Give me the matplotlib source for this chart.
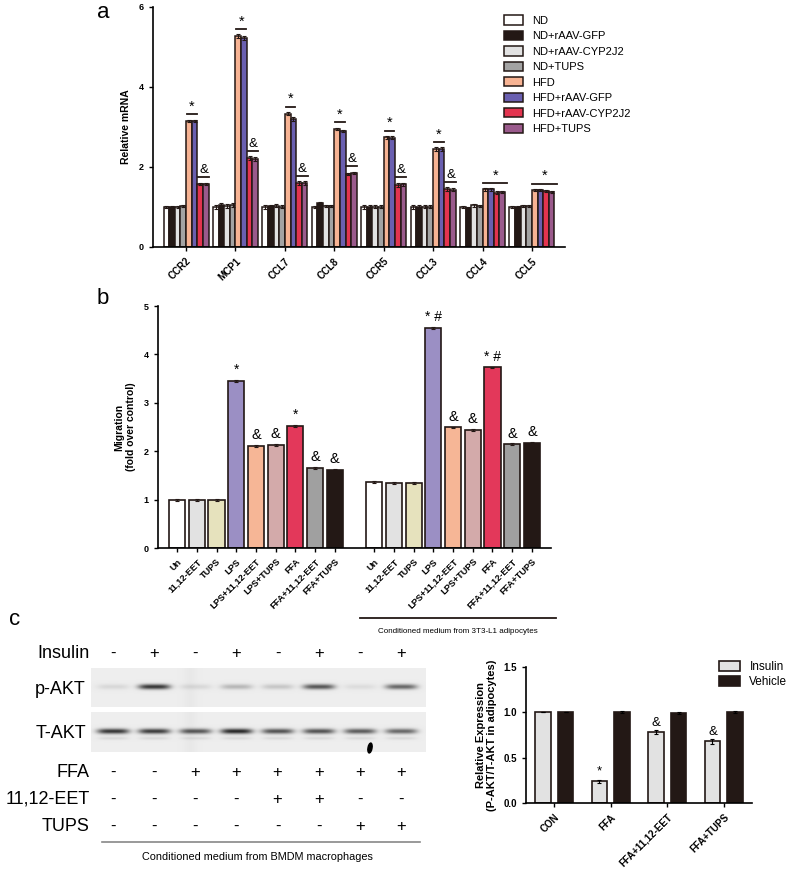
import matplotlib
matplotlib.use("Agg")
import matplotlib.pyplot as plt
from matplotlib.patches import Ellipse
import numpy as np

plt.rcParams['font.family'] = ['Liberation Sans', 'DejaVu Sans']

# ---------------- data ----------------
# panel a
genes = ["CCR2", "MCP1", "CCL7", "CCL8", "CCR5", "CCL3", "CCL4", "CCL5"]
groups_a = ["ND", "ND+rAAV-GFP", "ND+rAAV-CYP2J2", "ND+TUPS",
            "HFD", "HFD+rAAV-GFP", "HFD+rAAV-CYP2J2", "HFD+TUPS"]
nd = [1.00, 1.00, 1.00, 1.00, 1.00, 1.00, 1.00, 1.00]
nd_gfp = [1.00, 1.04, 1.02, 1.10, 1.01, 1.01, 0.98, 1.00]
nd_cyp = [1.00, 1.02, 1.03, 1.03, 1.01, 1.01, 1.04, 1.02]
nd_tups = [1.02, 1.05, 1.01, 1.02, 1.01, 1.01, 1.02, 1.02]
hfd = [3.15, 5.27, 3.33, 2.95, 2.74, 2.45, 1.44, 1.43]
hfd_gfp = [3.15, 5.23, 3.20, 2.90, 2.73, 2.45, 1.44, 1.43]
hfd_cyp = [1.58, 2.22, 1.60, 1.82, 1.55, 1.45, 1.36, 1.40]
hfd_tups = [1.58, 2.20, 1.60, 1.85, 1.57, 1.43, 1.37, 1.38]
err_a = [0.03, 0.05, 0.04, 0.03, 0.04, 0.04, 0.03, 0.03]
pair_marks = [("*", "&"), ("*", "&"), ("*", "&"), ("*", "&"),
              ("*", "&"), ("*", "&"), ("*", None), ("*", None)]
colors_a = ["#ffffff", "#231815", "#e2e2e2", "#a3a3a3",
            "#f7b393", "#6a5fb0", "#e3344f", "#9a5a8c"]

# panel b
treat_b = ["Un", "11,12-EET", "TUPS", "LPS", "LPS+11,12-EET", "LPS+TUPS",
           "FFA", "FFA+11,12-EET", "FFA+TUPS"]
direct_b = [1.00, 1.00, 1.00, 3.45, 2.10, 2.13, 2.53, 1.65, 1.62]
cond_b = [1.37, 1.34, 1.34, 4.55, 2.49, 2.44, 3.73, 2.14, 2.17]
marks_direct = ["", "", "", "*", "&", "&", "*", "&", "&"]
marks_cond = ["", "", "", "* #", "&", "&", "* #", "&", "&"]
colors_b = ["#ffffff", "#e2e2e2", "#e6e2bd", "#9b8fc4", "#f6b696",
            "#d3aaaa", "#e3385a", "#a0a0a0", "#231815"]

# panel c (right)
cats_c = ["CON", "FFA", "FFA+11,12-EET", "FFA+TUPS"]
insulin_c = [1.00, 0.24, 0.78, 0.68]
vehicle_c = [1.00, 1.00, 0.995, 1.00]
ins_err = [0.0, 0.015, 0.02, 0.025]
veh_err = [0.0, 0.01, 0.01, 0.01]
marks_c = ["", "*", "&", "&"]

# panel c (blot)
insulin_row = ["-", "+", "-", "+", "-", "+", "-", "+"]
ffa_row = ["-", "-", "+", "+", "+", "+", "+", "+"]
eet_row = ["-", "-", "-", "-", "+", "+", "-", "-"]
tups_row = ["-", "-", "-", "-", "-", "-", "+", "+"]
pakt_band = [0.10, 0.85, 0.10, 0.25, 0.18, 0.70, 0.08, 0.62]
takt_band = [0.85, 0.82, 0.70, 0.92, 0.72, 0.72, 0.68, 0.62]

W, H = 787, 872
fig = plt.figure(figsize=(W / 100, H / 100), dpi=100)


def fbox(x0, y0, x1, y1):
    # pixel box -> figure fraction
    return [x0 / W, 1 - y1 / H, (x1 - x0) / W, (y1 - y0) / H]


def style_axis(ax, ysize=6.5):
    for s in ["top", "right"]:
        ax.spines[s].set_visible(False)
    for s in ["left", "bottom"]:
        ax.spines[s].set_linewidth(1.2)
    ax.tick_params(width=1.0, length=3)
    ax.tick_params(axis="y", labelsize=ysize)
    for t in ax.get_yticklabels():
        t.set_fontweight("bold")


# overlay in pixel coords for blot and free text
ov = fig.add_axes([0, 0, 1, 1], zorder=-1)
ov.set_xlim(0, W)
ov.set_ylim(H, 0)
ov.axis("off")

# ---------------- panel a ----------------
ax = fig.add_axes(fbox(153, 7, 565, 247))
series_a = [nd, nd_gfp, nd_cyp, nd_tups, hfd, hfd_gfp, hfd_cyp, hfd_tups]
x = np.arange(len(genes))
bw = 0.114
for i, (vals, c, lab) in enumerate(zip(series_a, colors_a, groups_a)):
    ax.bar(x + (i - 3.5) * bw, vals, bw, color=c, edgecolor="#231815",
           linewidth=1.1, label=lab, yerr=err_a, capsize=1.2,
           error_kw=dict(elinewidth=0.8, capthick=0.8, ecolor="#231815"))
for g in range(len(genes)):
    star, amp = pair_marks[g]
    if amp is None:
        top = max(hfd[g], hfd_gfp[g], hfd_cyp[g], hfd_tups[g]) + 0.15
        x0, x1 = x[g] + 0.5 * bw - 0.05, x[g] + 4.0 * bw + 0.05
        ax.plot([x0, x1], [top, top], color="#231815", lw=1.3, clip_on=False)
        ax.text((x0 + x1) / 2, top + 0.02, star, ha="center", va="bottom", fontsize=10.5)
    else:
        top = max(hfd[g], hfd_gfp[g]) + 0.17
        x0, x1 = x[g] + 0.5 * bw - 0.04, x[g] + 1.5 * bw + 0.04
        ax.plot([x0, x1], [top, top], color="#231815", lw=1.3)
        ax.text((x0 + x1) / 2, top + 0.02, star, ha="center", va="bottom", fontsize=10.5)
        top2 = max(hfd_cyp[g], hfd_tups[g]) + 0.18
        x0, x1 = x[g] + 2.5 * bw - 0.04, x[g] + 3.5 * bw + 0.06
        ax.plot([x0, x1], [top2, top2], color="#231815", lw=1.3)
        ax.text((x0 + x1) / 2, top2 + 0.02, amp, ha="center", va="bottom", fontsize=9.5)
ax.set_xlim(-0.67, 7.67)
ax.set_ylim(0, 6)
ax.set_yticks([0, 2, 4, 6])
ax.set_xticks(x)
ax.set_xticklabels(genes, rotation=45, ha="right", rotation_mode="anchor",
                   fontsize=7, fontweight="bold")
ax.set_ylabel("Relative mRNA", fontsize=7.5, fontweight="bold", labelpad=6)
style_axis(ax)
ax.legend(loc="upper left", bbox_to_anchor=(500 / W, 1 - 11 / H),
          bbox_transform=fig.transFigure, frameon=False, fontsize=8,
          handlelength=1.7, handleheight=0.9, labelspacing=0.45,
          handletextpad=0.8, borderaxespad=0)

# ---------------- panel b ----------------
ax = fig.add_axes(fbox(158, 306, 551, 548))
xb1 = np.arange(len(treat_b))
xb2 = xb1 + len(treat_b) + 1
for xs, vals, marks in [(xb1, direct_b, marks_direct), (xb2, cond_b, marks_cond)]:
    ax.bar(xs, vals, 0.82, color=colors_b, edgecolor="#231815", linewidth=1.2,
           yerr=0.02, capsize=1.5,
           error_kw=dict(elinewidth=0.8, capthick=0.8, ecolor="#231815"))
    for xi, v, m in zip(xs, vals, marks):
        if m:
            ax.text(xi, v + 0.08, m, ha="center", va="bottom",
                    fontsize=10.5 if m == "&" else 10)
ax.set_xlim(-0.97, 18.97)
ax.set_ylim(0, 5)
ax.set_yticks(range(6))
ax.set_xticks(np.concatenate([xb1, xb2]))
ax.set_xticklabels(treat_b * 2, rotation=45, ha="right", rotation_mode="anchor",
                   fontsize=6.6, fontweight="bold")
ax.set_ylabel("Migration\n(fold over control)", fontsize=7.5, fontweight="bold",
              labelpad=6, linespacing=1.1)
style_axis(ax)
ov.plot([360, 556], [618, 618], color="#231815", lw=1.3)
ov.text(458, 631, "Conditioned medium from 3T3-L1 adipocytes", ha="center",
        va="center", fontsize=5.8)

# ---------------- panel c right ----------------
ax = fig.add_axes(fbox(526, 667, 752, 803))
xc = np.arange(len(cats_c))
cw = 0.28
ax.bar(xc - 0.2, insulin_c, cw, color="#e2e2e2", edgecolor="#231815",
       linewidth=1.2, label="Insulin", yerr=ins_err, capsize=1.5,
       error_kw=dict(elinewidth=0.8, capthick=0.8))
ax.bar(xc + 0.2, vehicle_c, cw, color="#231815", edgecolor="#231815",
       linewidth=1.2, label="Vehicle", yerr=veh_err, capsize=1.5,
       error_kw=dict(elinewidth=0.8, capthick=0.8))
for xi, v, m in zip(xc, insulin_c, marks_c):
    if m:
        ax.text(xi - 0.2, v + 0.04, m, ha="center", va="bottom", fontsize=9.5)
ax.set_xlim(-0.5, 3.5)
ax.set_ylim(0, 1.5)
ax.set_yticks([0, 0.5, 1.0, 1.5])
ax.set_yticklabels(["0.0", "0.5", "1.0", "1.5"])
ax.set_xticks(xc)
ax.set_xticklabels(cats_c, rotation=45, ha="right", rotation_mode="anchor",
                   fontsize=7, fontweight="bold")
ax.set_ylabel("Relative Expression\n(P-AKT/T-AKT in adipocytes)", fontsize=8,
              fontweight="bold", labelpad=5, linespacing=1.1)
style_axis(ax, ysize=7)
ax.legend(loc="upper left", bbox_to_anchor=(714 / W, 1 - 656 / H),
          bbox_transform=fig.transFigure, frameon=False, fontsize=8.5,
          handlelength=1.8, handleheight=0.9, labelspacing=0.25,
          handletextpad=0.8, borderaxespad=0)

# ---------------- panel c blot ----------------
lanes = np.linspace(113, 401, 8)
bx0, bx1 = 91, 426


def strip(y0, y1, amps, second=None):
    yy, xx = np.mgrid[y0:y1:0.5, bx0:bx1:0.5]
    img = np.full(xx.shape, 0.93)
    img -= 0.02 * np.exp(-((xx - 190) / 6) ** 2)
    yc = (y0 + y1) / 2 - 1
    for lx, a in zip(lanes, amps):
        prof = np.exp(-np.abs((xx - lx) / 16) ** 4) * np.exp(-((yy - yc) / 2.6) ** 2)
        img -= a * 0.85 * prof
        if second is not None:
            img -= second * np.exp(-np.abs((xx - lx) / 15) ** 4) * \
                np.exp(-((yy - yc - 7) / 1.5) ** 2)
    ov.imshow(np.clip(img, 0, 1), cmap="gray", vmin=0, vmax=1,
              extent=(bx0, bx1, y1, y0), aspect="auto", interpolation="bilinear")


strip(668, 707, pakt_band)
strip(712, 752, takt_band, second=0.08)
ov.add_patch(Ellipse((370, 748), 4, 10, angle=10, color="black"))
ov.set_xlim(0, W)
ov.set_ylim(H, 0)

row_labels = [("Insulin", 653, insulin_row), ("FFA", 772, ffa_row),
              ("11,12-EET", 799, eet_row), ("TUPS", 826, tups_row)]
for lab, yy, signs in row_labels:
    ov.text(90, yy, lab, ha="right", va="center", fontsize=13)
    for lx, s in zip(lanes, signs):
        ov.text(lx, yy, s, ha="center", va="center", fontsize=12)
ov.text(86, 689, "p-AKT", ha="right", va="center", fontsize=13)
ov.text(86, 733, "T-AKT", ha="right", va="center", fontsize=13)
ov.plot([102, 420], [842, 842], color="#888888", lw=1.2)
ov.text(257, 857, "Conditioned medium from BMDM macrophages", ha="center",
        va="center", fontsize=7.8)

# panel letters
ov.text(103, 12, "a", fontsize=16, ha="center", va="center")
ov.text(103, 298, "b", fontsize=16, ha="center", va="center")
ov.text(15, 619, "c", fontsize=16, ha="center", va="center")

fig.savefig("out.png", dpi=100)
